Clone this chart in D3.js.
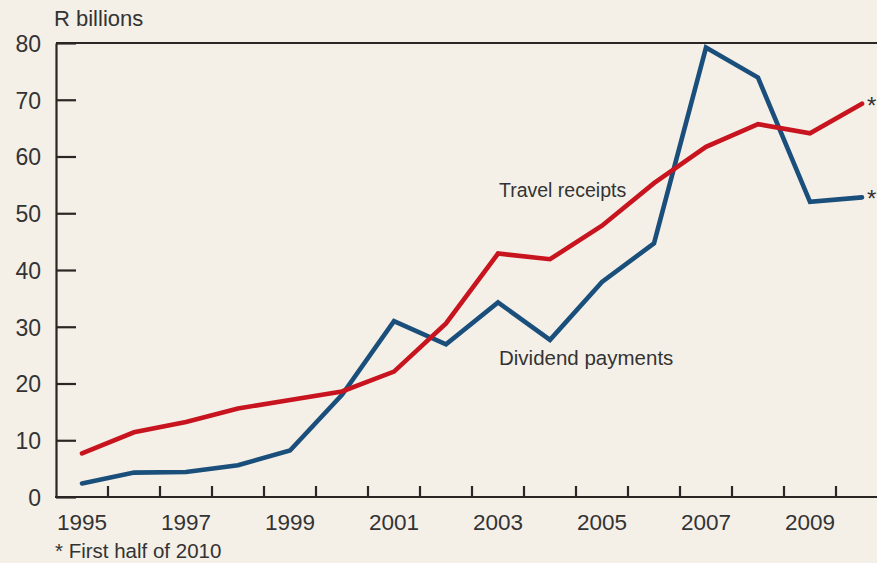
<!DOCTYPE html>
<html>
<head>
<meta charset="UTF-8">
<title>Travel receipts and dividend payments</title>
<style>
  body { margin: 0; background: #f4f0e8; overflow: hidden; }
  svg { display: block; }
  text { font-family: "Liberation Sans", Arial, sans-serif; fill: #333; }
  .axis path, .axis line { stroke: #2a2624; stroke-width: 2.2; }
  .line { fill: none; stroke-width: 4.6; stroke-linecap: round; stroke-linejoin: miter; }
</style>
</head>
<body>
<svg id="chart"></svg>
<script src="https://d3js.org/d3.v7.min.js"></script>
<script>
  // years on the x axis
  var years = [1995, 1996, 1997, 1998, 1999, 2000, 2001, 2002, 2003, 2004, 2005, 2006, 2007, 2008, 2009, 2010];
  // R billions (2010 = first half)
  var travelReceipts = [7.7, 11.4, 13.2, 15.6, 17.1, 18.6, 22.1, 30.6, 42.9, 41.9, 47.8, 55.3, 61.7, 65.7, 64.1, 69.3];
  var dividendPayments = [2.4, 4.3, 4.4, 5.6, 8.2, 18.0, 31.0, 26.9, 34.3, 27.7, 37.9, 44.7, 79.2, 73.9, 52.0, 52.8];
  var yTicks = [0, 10, 20, 30, 40, 50, 60, 70, 80];
  var xLabels = [1995, 1997, 1999, 2001, 2003, 2005, 2007, 2009];

  var W = 877, H = 563;
  var svg = d3.select("#chart").attr("width", W).attr("height", H);

  var x = d3.scaleBand().domain(years).range([56, 888]).padding(0);
  var y = d3.scaleLinear().domain([0, 80]).range([497, 43]);
  var cx = function(yr) { return x(yr) + x.bandwidth() / 2; };

  // top frame line
  svg.append("line")
    .attr("x1", 56).attr("x2", 888)
    .attr("y1", y(80)).attr("y2", y(80))
    .attr("stroke", "#2a2624").attr("stroke-width", 2.2);

  // y axis, ticks pointing inwards
  var yAxis = svg.append("g")
    .attr("class", "axis")
    .attr("transform", "translate(56,0)")
    .call(d3.axisLeft(y).tickValues(yTicks).tickSizeInner(-20).tickSizeOuter(0).tickPadding(15));
  yAxis.selectAll("text").style("font-size", "23px").attr("dy", "0.36em");

  // x axis: base line, ticks at year boundaries, labels centred in years
  var xAxis = svg.append("g").attr("class", "axis");
  xAxis.append("line")
    .attr("x1", 55).attr("x2", 888)
    .attr("y1", y(0)).attr("y2", y(0));
  xAxis.selectAll(".tk")
    .data(years.slice(1))
    .enter().append("line")
    .attr("class", "tk")
    .attr("x1", function(d) { return x(d); })
    .attr("x2", function(d) { return x(d); })
    .attr("y1", y(0)).attr("y2", y(0) - 11);
  xAxis.selectAll(".lb")
    .data(xLabels)
    .enter().append("text")
    .attr("class", "lb")
    .attr("x", function(d) { return cx(d); })
    .attr("y", 530)
    .attr("text-anchor", "middle")
    .style("font-size", "22.5px")
    .text(function(d) { return d; });

  // lines
  var line = d3.line()
    .x(function(d, i) { return cx(years[i]); })
    .y(function(d) { return y(d); });

  svg.append("path").datum(dividendPayments)
    .attr("class", "line").attr("stroke", "#1b4f7b").attr("d", line);
  svg.append("path").datum(travelReceipts)
    .attr("class", "line").attr("stroke", "#c8141f").attr("d", line);

  // asterisks at the 2010 points
  [travelReceipts, dividendPayments].forEach(function(s) {
    svg.append("text")
      .attr("x", cx(2010) + 5)
      .attr("y", y(s[s.length - 1]) + 10)
      .style("font-size", "24px")
      .text("*");
  });

  // labels
  svg.append("text").attr("x", 499).attr("y", 197).style("font-size", "19.5px").text("Travel receipts");
  svg.append("text").attr("x", 499).attr("y", 365).style("font-size", "20.5px").text("Dividend payments");
  svg.append("text").attr("x", 54).attr("y", 26).style("font-size", "22px").text("R billions");
  svg.append("text").attr("x", 55).attr("y", 558).style("font-size", "20.5px").text("* First half of 2010");
</script>
</body>
</html>
